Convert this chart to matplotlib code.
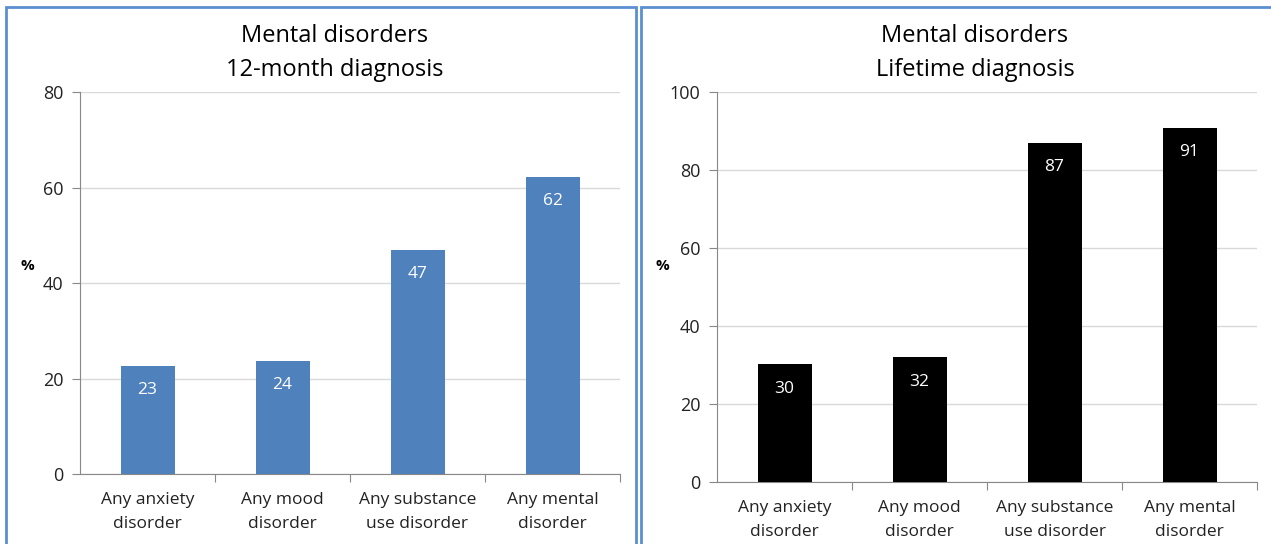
import matplotlib.pyplot as plt
from matplotlib.patches import Rectangle

# data
categories = ["Any anxiety\ndisorder", "Any mood\ndisorder",
              "Any substance\nuse disorder", "Any mental\ndisorder"]
month12 = [22.6, 23.7, 46.9, 62.2]
lifetime = [30.2, 32.0, 86.9, 90.8]

plt.rcParams['font.family'] = ['Open Sans', 'DejaVu Sans']

fig = plt.figure(figsize=(12.71, 5.44), dpi=100)
W, H = 1271, 544


def px(x0, y0, x1, y1):
    # pixel box -> figure fraction [left, bottom, width, height]
    return [x0 / W, 1 - y1 / H, (x1 - x0) / W, (y1 - y0) / H]


def draw(ax, values, color, ymax, ystep):
    pos = range(len(values))
    bars = ax.bar(pos, values, width=0.4, color=color, zorder=3)
    for b, v in zip(bars, values):
        ax.annotate("%.0f" % v, (b.get_x() + b.get_width() / 2, v),
                    xytext=(0, -17.5), textcoords='offset points',
                    ha='center', va='center', color='white', fontsize=12.5)
    ax.set_xlim(-0.5, len(values) - 0.5)
    ax.set_ylim(0, ymax)
    ax.set_yticks(range(0, ymax + 1, ystep))
    ax.set_xticks([i + 0.5 for i in range(len(values))])
    ax.set_xticklabels([])
    ax.set_xticks(list(pos), minor=True)
    ax.set_xticklabels(categories, minor=True, fontsize=12.5, color='#222222',
                       linespacing=1.7)
    ax.tick_params(axis='x', which='minor', length=0, pad=13)
    ax.tick_params(axis='x', which='major', length=6, color='#888888')
    ax.tick_params(axis='y', length=6, color='#888888', labelsize=13,
                   labelcolor='#222222', pad=6)
    ax.grid(axis='y', color='#d9d9d9', lw=1, zorder=0)
    for s in ['top', 'right']:
        ax.spines[s].set_visible(False)
    for s in ['left', 'bottom']:
        ax.spines[s].set_color('#888888')


ax1 = fig.add_axes(px(80, 92, 620, 474))
draw(ax1, month12, '#4f81bd', 80, 20)
ax2 = fig.add_axes(px(717, 92, 1257, 482))
draw(ax2, lifetime, '#000000', 100, 20)

# titles and % labels
fig.text(335 / W, 1 - 36 / H, "Mental disorders", ha='center', va='center', fontsize=17)
fig.text(335 / W, 1 - 70 / H, "12-month diagnosis", ha='center', va='center', fontsize=17)
fig.text(975 / W, 1 - 36 / H, "Mental disorders", ha='center', va='center', fontsize=17)
fig.text(975 / W, 1 - 70 / H, "Lifetime diagnosis", ha='center', va='center', fontsize=17)
fig.text(27 / W, 1 - 266 / H, "%", ha='center', va='center', fontsize=11, weight='bold')
fig.text(662 / W, 1 - 266 / H, "%", ha='center', va='center', fontsize=11, weight='bold')

# panel frames
fig.patches.append(Rectangle((6 / W, -0.1), 630 / W, 1.1 - 7 / H,
                             transform=fig.transFigure, fill=False,
                             edgecolor='#5b8fd0', lw=2))
fig.patches.append(Rectangle((641 / W, -0.1), 700 / W, 1.1 - 7 / H,
                             transform=fig.transFigure, fill=False,
                             edgecolor='#5b8fd0', lw=2))

fig.savefig("out.png", dpi=100)
